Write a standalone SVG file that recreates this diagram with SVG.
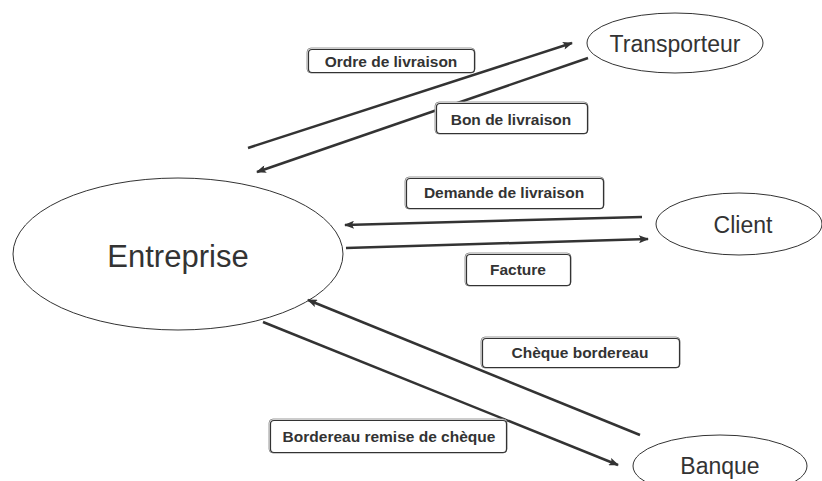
<svg xmlns="http://www.w3.org/2000/svg" width="822" height="481" viewBox="0 0 822 481">
<defs>
<marker id="ah" viewBox="0 0 10 8" refX="9" refY="4" markerWidth="11" markerHeight="8" markerUnits="userSpaceOnUse" orient="auto">
<path d="M0,0 L10,4 L0,8 L2,4 Z" fill="#333"/>
</marker>
<style>
.node{fill:#fff;stroke:#333;stroke-width:1}
.nt{font-family:Arial,'Liberation Sans',Helvetica,sans-serif;fill:#333;text-anchor:middle}
.conn line{stroke:#333;stroke-width:2.5;marker-end:url(#ah)}
.lb1{fill:#fff;stroke:#999;stroke-width:1}
.lb2{fill:none;stroke:#333;stroke-width:1.2}
.lt{font-family:Arial,'Liberation Sans',Helvetica,sans-serif;font-weight:bold;font-size:15.5px;fill:#333;text-anchor:middle}
</style>
</defs>
<rect width="822" height="481" fill="#fff"/>
<g id="entreprise"><ellipse class="node" cx="178" cy="254" rx="165" ry="76"/><text class="nt" x="178" y="267" font-size="31">Entreprise</text></g>
<g id="transporteur"><ellipse class="node" cx="675" cy="43" rx="88" ry="30"/><text class="nt" x="675" y="52" font-size="23">Transporteur</text></g>
<g id="client"><ellipse class="node" cx="739" cy="224" rx="83" ry="31"/><text class="nt" x="743" y="233" font-size="23">Client</text></g>
<g id="banque"><ellipse class="node" cx="720" cy="466" rx="87" ry="31"/><text class="nt" x="720" y="474" font-size="23">Banque</text></g>
<g class="conn" id="connectors">
<line x1="248" y1="148" x2="572" y2="43"/>
<line x1="588" y1="58" x2="257" y2="172"/>
<line x1="642" y1="217" x2="345" y2="225"/>
<line x1="346" y1="248" x2="648" y2="239"/>
<line x1="640" y1="435" x2="308" y2="300"/>
<line x1="263" y1="322" x2="618" y2="465"/>
</g>
<g id="lbl-ordre"><rect class="lb1" x="307" y="48" width="168" height="25" rx="4"/><rect class="lb2" x="308.5" y="49.5" width="166" height="23" rx="3.5"/><text class="lt" x="391" y="67">Ordre de livraison</text></g>
<g id="lbl-bon"><rect class="lb1" x="435" y="102" width="153" height="32" rx="4"/><rect class="lb2" x="436.5" y="103.5" width="151" height="30" rx="3.5"/><text class="lt" x="511" y="125">Bon de livraison</text></g>
<g id="lbl-demande"><rect class="lb1" x="405" y="177" width="199" height="32" rx="4"/><rect class="lb2" x="406.5" y="178.5" width="197" height="30" rx="3.5"/><text class="lt" x="504" y="198">Demande de livraison</text></g>
<g id="lbl-facture"><rect class="lb1" x="465" y="253" width="106" height="33" rx="4"/><rect class="lb2" x="466.5" y="254.5" width="104" height="31" rx="3.5"/><text class="lt" x="518" y="275">Facture</text></g>
<g id="lbl-cheque"><rect class="lb1" x="481" y="337" width="199" height="31" rx="4"/><rect class="lb2" x="482.5" y="338.5" width="197" height="29" rx="3.5"/><text class="lt" x="580" y="358">Chèque bordereau</text></g>
<g id="lbl-bordereau"><rect class="lb1" x="269" y="419" width="238" height="34" rx="4"/><rect class="lb2" x="270.5" y="420.5" width="236" height="32" rx="3.5"/><text class="lt" x="389" y="442">Bordereau remise de chèque</text></g>
</svg>
